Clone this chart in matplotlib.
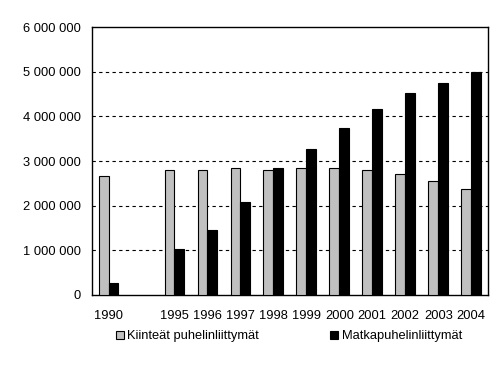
import matplotlib.pyplot as plt
import numpy as np

plt.rcParams['font.family'] = ['Liberation Sans', 'DejaVu Sans']

# data (one blank slot between 1990 and 1995)
years = ['1990', '', '1995', '1996', '1997', '1998', '1999', '2000', '2001', '2002', '2003', '2004']
fixed = [2660000, np.nan, 2800000, 2800000, 2850000, 2810000, 2850000, 2850000, 2790000, 2700000, 2550000, 2370000]
mobile = [276000, np.nan, 1040000, 1460000, 2080000, 2850000, 3270000, 3730000, 4170000, 4530000, 4750000, 4990000]
labels = ['Kiinteät puhelinliittymät', 'Matkapuhelinliittymät']
yticks = [0, 1000000, 2000000, 3000000, 4000000, 5000000, 6000000]

fig = plt.figure(figsize=(4.95, 3.66), dpi=100)
ax = fig.add_axes([0.1859, 0.194, 0.7994, 0.732])

x = np.arange(len(years))
w = 0.3
ax.bar(x - w / 2, fixed, w, color='#c0c0c0', edgecolor='black', linewidth=0.8, label=labels[0], zorder=3)
ax.bar(x + w / 2, mobile, w, color='black', edgecolor='black', linewidth=0.8, label=labels[1], zorder=3)

ax.set_xlim(-0.5, len(years) - 0.5)
ax.set_ylim(0, 6000000)
ax.set_xticks(x)
ax.set_xticklabels(years)
ax.set_yticks(yticks)
ax.set_yticklabels([f'{v:,}'.replace(',', ' ') for v in yticks])
ax.tick_params(axis='both', length=0, labelsize=9.3)
ax.tick_params(axis='x', pad=11)
ax.tick_params(axis='y', pad=8)

for v in yticks[1:-1]:
    ax.axhline(v, color='black', linewidth=0.8, linestyle=(0, (3, 3)), zorder=1)

for s in ax.spines.values():
    s.set_linewidth(1.0)
    s.set_color('black')

fig.legend(loc='center left', bbox_to_anchor=(0.234, 0.081), ncol=2, frameon=False,
           fontsize=9.3, handlelength=0.6, handleheight=0.6, handletextpad=0.3,
           columnspacing=5.5, borderpad=0, borderaxespad=0)

fig.savefig('out.png', dpi=100)
